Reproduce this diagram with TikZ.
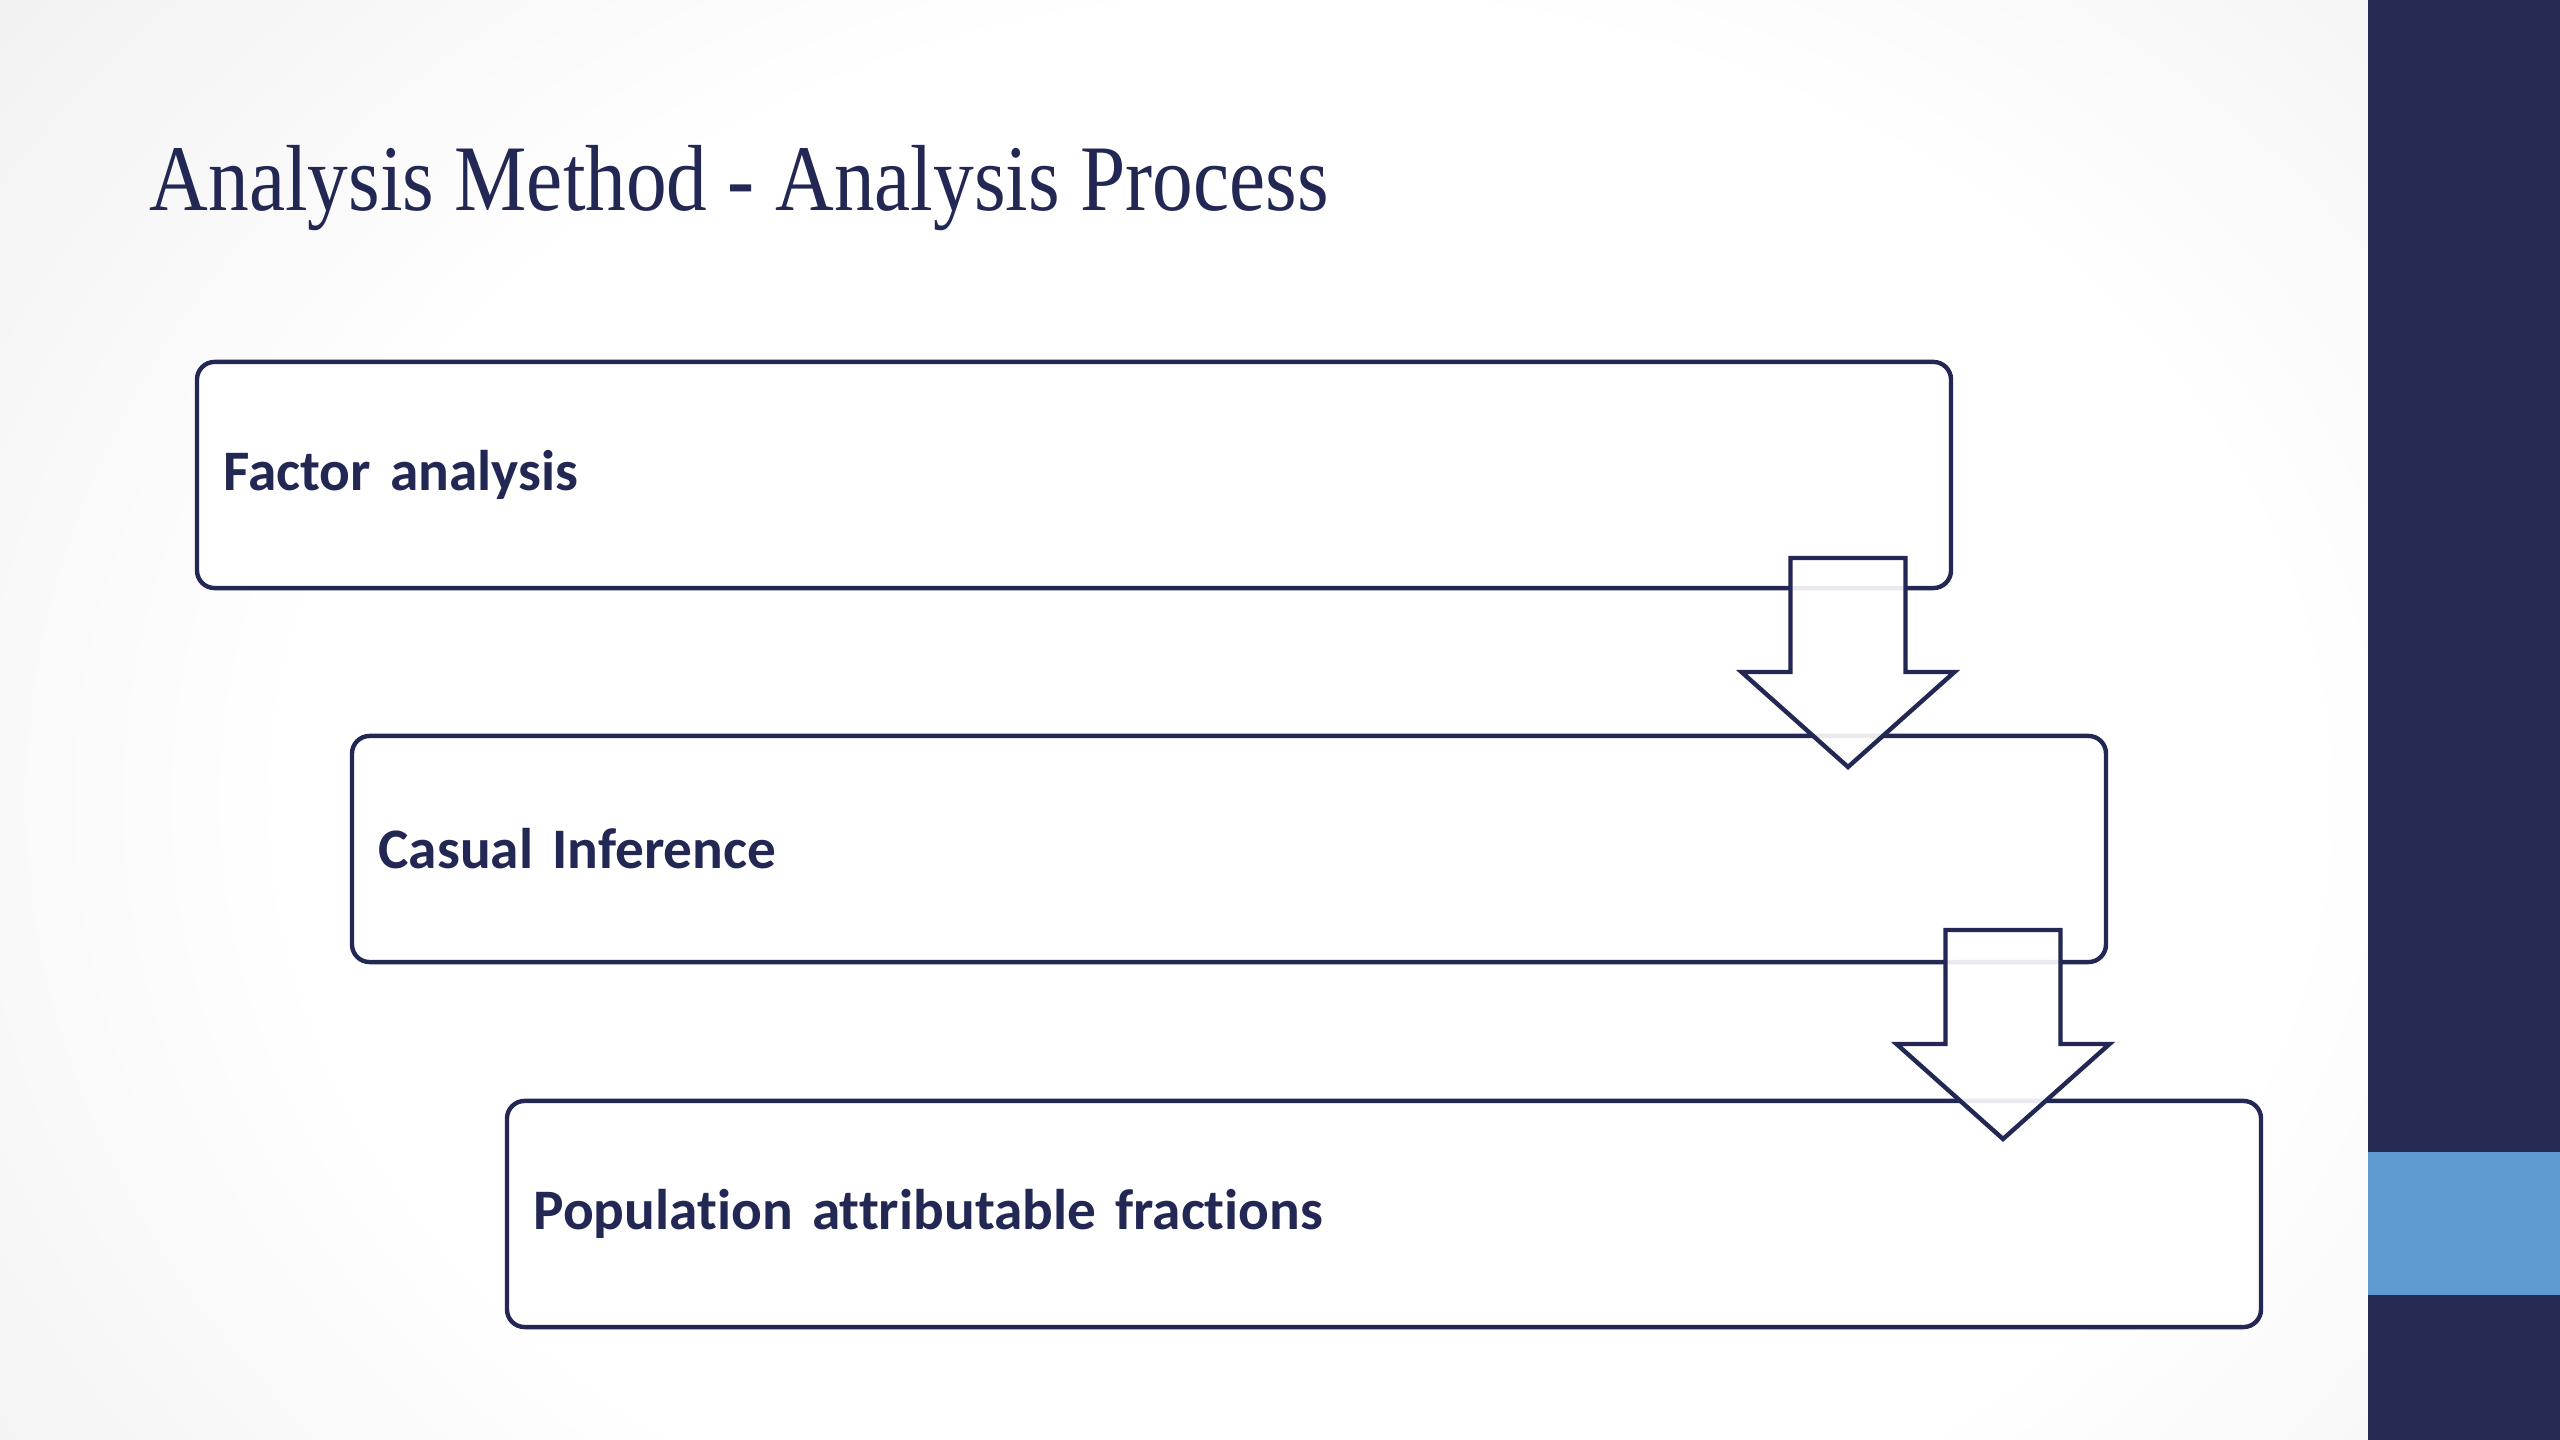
\documentclass[tikz,border=0pt]{standalone}
\usepackage{fontspec}
\usepackage{graphicx}
\setmainfont{Liberation Serif}
\newfontfamily\boxfont[RawFeature=-liga]{Carlito}
\definecolor{navy}{HTML}{222753}
\definecolor{band}{HTML}{242A52}
\definecolor{lightband}{HTML}{5F9BD0}
\definecolor{bggray}{HTML}{DADADA}
\pgfdeclareradialshading{bgshade}{\pgfpoint{0bp}{0bp}}{color(0bp)=(white); color(18bp)=(white); color(50bp)=(bggray); color(75bp)=(bggray)}
\tikzset{
  stagebox/.style={draw=navy, line width=1.25pt, rounded corners=5pt, fill=white,
    minimum width=17.53cm, minimum height=2.26cm, text width=17.0cm, align=left,
    inner xsep=0.265cm, text=navy, font=\boxfont\bfseries\fontsize{16.3pt}{19pt}\selectfont},
  blockarrow/.style={draw=navy, line width=1.25pt, fill=white, fill opacity=0.9, line join=miter},
  downarrow/.pic={
    \draw[blockarrow] (-57.5,0) -- ++(115,0) -- ++(0,114) -- ++(49,0) -- ++(-106.5,95) -- ++(-106.5,-95) -- ++(49,0) -- cycle;
  }
}
\begin{document}
\begin{tikzpicture}[x=0.01cm, y=-0.01cm]
\useasboundingbox (0,0) rectangle (2560,1440);
\begin{scope}
  \clip (0,0) rectangle (2368,1440);
  \shade[shading=bgshade] (-100,-300) rectangle (2700,1900);
\end{scope}
\fill[band] (2368,0) rectangle (2560,1440);
\fill[lightband] (2368,1152) rectangle (2560,1295);
\node[anchor=base west, inner sep=0, text=navy, font=\fontsize{26.7pt}{30pt}\selectfont] (title) at (149,211) {\scalebox{0.866}[1]{Analysis Method - Analysis Process}};
\node[stagebox] (b1) at (1074,475) {Factor analysis};
\node[stagebox] (b2) at (1229,849) {Casual Inference};
\node[stagebox] (b3) at (1384,1214) {Population attributable fractions};
\pic (a1) at (1848,558) {downarrow};
\pic (a2) at (2003,930) {downarrow};
\end{tikzpicture}
\end{document}
